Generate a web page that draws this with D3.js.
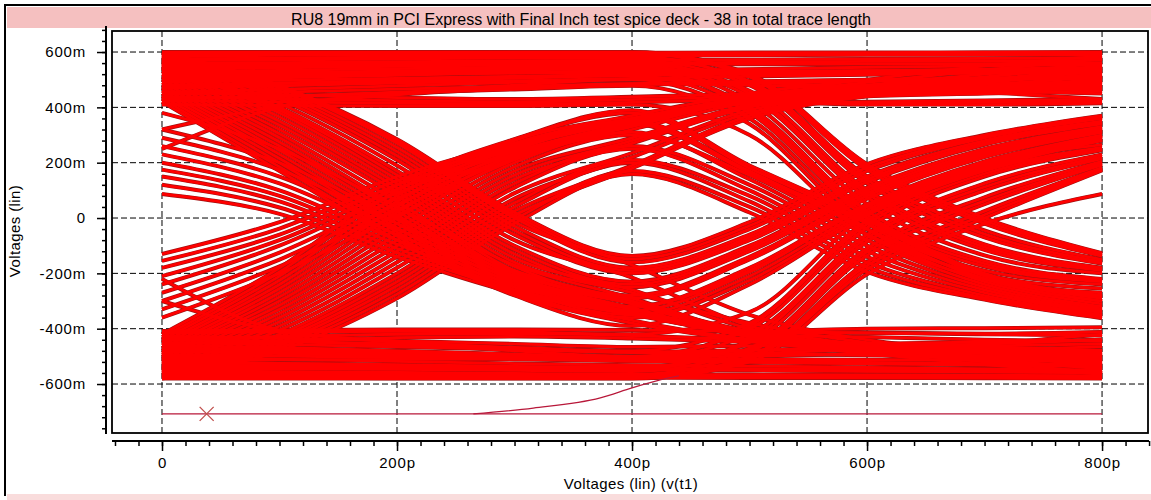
<!DOCTYPE html>
<html>
<head>
<meta charset="utf-8">
<script src="https://cdn.jsdelivr.net/npm/d3@7"></script>
<style>
  body { margin: 0; background: #fff; }
  svg { display: block; font-family: "Liberation Sans", Arial, sans-serif; }
</style>
</head>
<body>
<svg id="chart" width="1151" height="500"></svg>
<script>
// time of each sample in a trace, ps
const timesPs = [0, 100, 200, 300, 400, 500, 600, 700, 800];

// traces in mV, one value per sample time, grouped by bit pattern
const highHigh = [
  [585, 588, 590, 592, 592, 593, 594, 595, 595],
  [555, 558, 562, 566, 570, 572, 575, 577, 580],
  [500, 507, 516, 525, 532, 538, 545, 550, 555],
  [480, 488, 498, 508, 516, 520, 525, 530, 535],
  [430, 440, 455, 470, 482, 488, 495, 502, 510],
  [320, 405, 445, 470, 485, 480, 470, 460, 450],
  [250, 400, 450, 480, 500, 490, 475, 455, 430],
  [598, 597, 596, 596, 597, 598, 598, 599, 600],
  [575, 578, 582, 585, 587, 588, 590, 590, 591],
  [562, 560, 558, 557, 556, 556, 557, 558, 560],
  [548, 550, 553, 556, 560, 563, 566, 568, 570],
  [530, 528, 526, 525, 524, 523, 523, 524, 525],
  [512, 515, 520, 524, 528, 530, 533, 536, 540],
  [492, 498, 505, 512, 520, 526, 532, 538, 544],
  [470, 478, 488, 496, 505, 512, 518, 524, 528],
  [448, 455, 466, 476, 486, 494, 500, 506, 512],
  [455, 445, 435, 430, 438, 450, 462, 472, 482],
  [438, 430, 424, 420, 428, 440, 452, 465, 478],
  [425, 420, 415, 412, 418, 430, 445, 460, 470]
];
const highThenFall = [
  [600, 600, 600, 600, 600, 520, 195, 0, -127],
  [596, 596, 597, 598, 598, 515, 185, -10, -132],
  [590, 591, 592, 594, 595, 510, 175, -20, -138],
  [575, 577, 580, 583, 585, 488, 138, -58, -158],
  [570, 572, 575, 578, 580, 495, 150, -45, -150],
  [560, 562, 565, 568, 570, 480, 125, -70, -165],
  [548, 551, 555, 560, 565, 450, 88, -105, -185],
  [540, 543, 548, 553, 558, 460, 100, -95, -180],
  [530, 534, 540, 546, 552, 440, 75, -115, -190],
  [520, 525, 532, 540, 545, 420, 50, -135, -200],
  [512, 518, 526, 534, 540, 390, 12, -165, -225],
  [505, 510, 518, 526, 532, 400, 25, -155, -220],
  [478, 486, 495, 505, 515, 380, 0, -175, -230],
  [455, 465, 478, 490, 500, 360, -20, -190, -240],
  [432, 440, 452, 465, 478, 340, -40, -205, -255],
  [410, 407, 405, 405, 410, 300, -60, -220, -270]
];
const riseFirst = [
  [-580, -480, -290, -20, 159, 20, -195, -295, -362],
  [-575, -470, -275, -5, 170, 40, -178, -288, -356],
  [-570, -460, -260, 10, 180, 360, 440, 470, 490],
  [-565, -450, -245, 25, 190, 370, 442, 472, 495],
  [-560, -440, -230, 40, 200, 60, -160, -280, -350],
  [-555, -430, -215, 55, 210, 80, -140, -270, -342],
  [-550, -420, -200, 70, 220, 380, 445, 475, 500],
  [-545, -405, -180, 90, 235, 390, 448, 482, 510],
  [-540, -390, -160, 110, 250, 100, -120, -260, -335],
  [-532, -375, -140, 125, 260, 120, -100, -250, -328],
  [-525, -360, -120, 140, 270, 400, 450, 490, 520],
  [-518, -345, -100, 155, 280, 405, 458, 495, 530],
  [-510, -330, -80, 170, 290, 410, 465, 500, 540],
  [-502, -315, -60, 185, 300, 155, -60, -230, -310],
  [-495, -300, -40, 200, 310, 140, -80, -240, -320],
  [-488, -285, -20, 215, 320, 420, 472, 510, 550],
  [-480, -270, 0, 230, 330, 430, 480, 520, 560],
  [-470, -255, 20, 245, 340, 165, -20, -210, -290],
  [-460, -240, 40, 260, 350, 170, -40, -220, -300],
  [-450, -225, 60, 270, 360, 440, 490, 535, 575],
  [-440, -210, 80, 280, 370, 450, 500, 550, 585],
  [-430, -195, 100, 283, 380, 180, -10, -205, -285],
  [-420, -180, 120, 285, 390, 190, 0, -200, -280]
];
const riseEarly = [
  [-130, -15, 150, 270, 360, 420, 410, 410, 415],
  [-155, -38, 135, 262, 355, 418, 415, 418, 422],
  [-180, -60, 120, 255, 350, 415, 420, 425, 430],
  [-210, -80, 105, 248, 348, 165, -40, -220, -300],
  [-240, -100, 90, 240, 345, 420, 440, 450, 460],
  [-270, -125, 70, 232, 342, 425, 450, 460, 468],
  [-300, -150, 50, 225, 340, 430, 460, 470, 475],
  [-330, -175, 30, 218, 338, 435, 470, 485, 490],
  [-360, -200, 10, 210, 335, 440, 480, 500, 505]
];
const lowLow = [
  [-555, -558, -560, -563, -565, -566, -567, -568, -570],
  [-522, -527, -533, -540, -545, -548, -552, -556, -560],
  [-503, -510, -518, -526, -532, -535, -540, -545, -550],
  [-482, -490, -500, -510, -518, -522, -527, -532, -537],
  [-438, -446, -460, -474, -486, -490, -496, -502, -508],
  [-300, -410, -445, -470, -485, -478, -468, -456, -440],
  [-220, -405, -450, -480, -500, -490, -475, -455, -420],
  [-578, -577, -576, -576, -577, -578, -578, -579, -580],
  [-562, -565, -568, -570, -571, -572, -573, -574, -575],
  [-548, -546, -545, -544, -544, -545, -546, -548, -550],
  [-535, -538, -541, -545, -548, -551, -554, -556, -558],
  [-515, -513, -511, -510, -510, -511, -512, -514, -516],
  [-495, -499, -504, -509, -514, -518, -522, -526, -530],
  [-472, -478, -486, -494, -502, -500, -490, -478, -465],
  [-450, -457, -466, -475, -484, -478, -470, -462, -455],
  [-428, -434, -444, -455, -466, -462, -455, -448, -440],
  [-455, -445, -432, -428, -435, -448, -460, -470, -482],
  [-438, -428, -420, -418, -425, -440, -452, -465, -478],
  [-408, -405, -403, -403, -405, -410, -415, -418, -412]
];
const lowThenRise = [
  [-580, -580, -580, -580, -580, -520, -203, -20, 87],
  [-578, -578, -579, -579, -579, -505, -172, 12, 177],
  [-575, -576, -577, -578, -578, -510, -185, 0, 172],
  [-568, -570, -572, -574, -575, -500, -160, 25, 182],
  [-560, -563, -566, -569, -570, -478, -122, 62, 198],
  [-552, -555, -558, -562, -565, -485, -135, 50, 192],
  [-540, -543, -547, -551, -555, -470, -110, 75, 205],
  [-530, -534, -539, -544, -548, -440, -72, 112, 222],
  [-520, -525, -530, -536, -540, -450, -85, 100, 215],
  [-480, -486, -494, -502, -510, -420, -60, 125, 230],
  [-470, -476, -485, -495, -505, -390, -22, 160, 250],
  [-460, -468, -480, -492, -500, -400, -35, 150, 245],
  [-440, -445, -455, -468, -480, -380, -10, 170, 255],
  [-415, -412, -410, -412, -420, -340, 15, 190, 265]
];
const fallFirst = [
  [600, 480, 285, 20, -137, -15, 195, 300, 370],
  [595, 475, 278, 10, -148, -28, 182, 295, 365],
  [590, 470, 270, 0, -160, -40, 170, 290, 360],
  [585, 460, 255, -15, -170, -350, -440, -480, -500],
  [580, 450, 240, -30, -180, -60, 150, 280, 350],
  [575, 440, 225, -45, -190, -70, 140, 272, 345],
  [570, 430, 210, -60, -200, -80, 130, 265, 340],
  [565, 415, 190, -80, -215, -390, -460, -500, -530],
  [560, 400, 170, -100, -230, -100, 110, 250, 330],
  [555, 390, 155, -115, -240, -110, 100, 242, 325],
  [550, 380, 140, -130, -250, -120, 90, 235, 320],
  [545, 365, 125, -145, -260, -400, -470, -505, -525],
  [540, 350, 110, -160, -270, -380, -450, -490, -520],
  [530, 335, 95, -175, -280, -140, 80, 228, 315],
  [520, 320, 80, -190, -290, -150, 70, 220, 310],
  [510, 305, 60, -200, -300, -420, -475, -500, -505],
  [500, 290, 40, -210, -310, -410, -470, -510, -545],
  [490, 275, 25, -220, -320, -190, 40, 198, 295],
  [480, 260, 10, -230, -330, -420, -460, -480, -495],
  [470, 245, -5, -240, -340, -430, -485, -515, -540],
  [460, 230, -20, -250, -350, -210, 30, 190, 290],
  [450, 215, -35, -260, -360, -225, 20, 182, 285],
  [440, 200, -50, -270, -370, -440, -480, -520, -560],
  [430, 185, -65, -275, -380, -445, -490, -530, -565],
  [420, 170, -80, -280, -390, -240, 10, 175, 280]
];
const fallEarly = [
  [87, 15, -140, -270, -350, -410, -400, -398, -395],
  [120, 38, -125, -260, -345, -415, -415, -420, -425],
  [150, 60, -110, -250, -340, -420, -430, -440, -445],
  [175, 80, -95, -240, -335, -195, 45, 200, 298],
  [200, 100, -80, -230, -330, -425, -455, -470, -480],
  [230, 125, -60, -220, -325, -428, -462, -478, -488],
  [260, 150, -40, -210, -320, -180, 50, 205, 300],
  [290, 175, -20, -200, -310, -425, -468, -490, -500],
  [320, 200, 0, -190, -300, -430, -475, -500, -515],
  [380, 250, 40, -170, -290, -420, -465, -485, -490]
];

// the start-up trace below the eye and its cursor
const baseTimes = [0, 800];
const baseLevels = [-708, -708];
const rampTimes = [265, 316, 373, 400, 424, 440];
const rampLevels = [-708, -687, -650, -614, -585, -570];
const markerTimes = [38];
const markerLevels = [-708];

// axes
const xMajorTicks = [0, 200, 400, 600, 800];
const xTickLabels = ["0", "200p", "400p", "600p", "800p"];
const yMajorTicks = [-600, -400, -200, 0, 200, 400, 600];
const yTickLabels = ["-600m", "-400m", "-200m", "0", "200m", "400m", "600m"];

const title = "RU8 19mm in PCI Express with Final Inch test spice deck - 38 in total trace length";
const xTitle = "Voltages (lin) (v(t1)";
const yTitle = "Voltages (lin)";

const traces = [].concat(highHigh, highThenFall, riseFirst, riseEarly,
  lowLow, lowThenRise, fallFirst, fallEarly);

const svg = d3.select("#chart");
const x = d3.scaleLinear().domain([-42.55, 839.1]).range([112, 1148]);
const y = d3.scaleLinear().domain([-777, 676]).range([433, 31]);

// window decoration
svg.append("rect").attr("x", 7).attr("y", 7).attr("width", 1144).attr("height", 21).attr("fill", "#f5c0c0");
svg.append("rect").attr("x", 7).attr("y", 494).attr("width", 1144).attr("height", 6).attr("fill", "#f9dcdc");
svg.append("path").attr("d", "M5,496V5H1151")
  .attr("fill", "none").attr("stroke", "#000").attr("stroke-width", 2);

svg.append("text")
  .attr("x", 581).attr("y", 25)
  .attr("text-anchor", "middle")
  .style("font-size", "16px")
  .text(title);

// dashed grid
const grid = svg.append("g").attr("stroke", "#000").attr("stroke-width", 1).attr("stroke-dasharray", "6,3");
grid.selectAll(null).data(xMajorTicks).join("line")
  .attr("x1", d => x(d)).attr("x2", d => x(d))
  .attr("y1", 31).attr("y2", 433);
grid.selectAll(null).data(yMajorTicks).join("line")
  .attr("x1", 112).attr("x2", 1148)
  .attr("y1", d => y(d)).attr("y2", d => y(d));

// eye traces: a dark rim under all of them, then the red lines
const line = d3.line()
  .x((d, i) => x(timesPs[i]))
  .y(d => y(d))
  .curve(d3.curveMonotoneX);

svg.append("g")
  .attr("fill", "none")
  .attr("stroke", "#a01010")
  .attr("stroke-width", 4)
  .selectAll("path")
  .data(traces)
  .join("path")
  .attr("d", line);

svg.append("g")
  .attr("fill", "none")
  .attr("stroke", "#ff0000")
  .attr("stroke-width", 2.8)
  .selectAll("path")
  .data(traces)
  .join("path")
  .attr("d", line);

// start-up trace
const line2 = d3.line().x(d => x(d[0])).y(d => y(d[1])).curve(d3.curveMonotoneX);
svg.append("path")
  .attr("d", line2(baseTimes.map((t, i) => [t, baseLevels[i]])))
  .attr("fill", "none").attr("stroke", "#b8183a").attr("stroke-width", 1.2);
svg.append("path")
  .attr("d", line2(rampTimes.map((t, i) => [t, rampLevels[i]])))
  .attr("fill", "none").attr("stroke", "#b8183a").attr("stroke-width", 1.2);

svg.append("g")
  .selectAll("path")
  .data(markerTimes)
  .join("path")
  .attr("d", (d, i) => {
    const cx = x(d), cy = y(markerLevels[i]);
    return `M${cx - 7},${cy - 7}L${cx + 7},${cy + 7}M${cx - 7},${cy + 7}L${cx + 7},${cy - 7}`;
  })
  .attr("stroke", "#c0504d").attr("stroke-width", 1.3);

// plot frame
svg.append("rect").attr("x", 112).attr("y", 31).attr("width", 1036).attr("height", 402)
  .attr("fill", "none").attr("stroke", "#000").attr("stroke-width", 1.8);

// y axis
const yMinor = d3.range(-760, 681, 40);
svg.append("g").attr("transform", "translate(106,0)")
  .call(d3.axisLeft(y).tickValues(yMinor).tickSize(4).tickFormat(""))
  .call(g => g.select(".domain").remove())
  .selectAll("line").attr("stroke-width", 1.5);
const yAx = svg.append("g").attr("transform", "translate(106,0)")
  .call(d3.axisLeft(y).tickValues(yMajorTicks).tickSize(9).tickPadding(11)
    .tickFormat((d, i) => yTickLabels[i]))
  .call(g => g.select(".domain").remove());
yAx.selectAll("line").attr("stroke-width", 1.5);
yAx.selectAll("text").style("font-size", "15px").style("font-family", "Liberation Sans, Arial, sans-serif")
  .style("letter-spacing", "0.8px");
svg.append("line").attr("x1", 106).attr("x2", 106).attr("y1", 26).attr("y2", 434)
  .attr("stroke", "#000").attr("stroke-width", 2);

// x axis
const xMinor = d3.range(-40, 841, 20);
svg.append("g").attr("transform", "translate(0,441)")
  .call(d3.axisBottom(x).tickValues(xMinor).tickSize(5).tickFormat(""))
  .call(g => g.select(".domain").remove())
  .selectAll("line").attr("stroke-width", 1.5);
const xAx = svg.append("g").attr("transform", "translate(0,441)")
  .call(d3.axisBottom(x).tickValues(xMajorTicks).tickSize(10).tickPadding(6)
    .tickFormat((d, i) => xTickLabels[i]))
  .call(g => g.select(".domain").remove());
xAx.selectAll("line").attr("stroke-width", 1.5);
xAx.selectAll("text").style("font-size", "15px").style("font-family", "Liberation Sans, Arial, sans-serif")
  .style("letter-spacing", "0.8px");
svg.append("line").attr("x1", 112).attr("x2", 1149).attr("y1", 441).attr("y2", 441)
  .attr("stroke", "#000").attr("stroke-width", 2);

// axis titles
svg.append("text")
  .attr("x", 631).attr("y", 489)
  .attr("text-anchor", "middle")
  .style("font-size", "15px").style("letter-spacing", "0.4px")
  .text(xTitle);
svg.append("text")
  .attr("transform", "translate(20,231) rotate(-90)")
  .attr("text-anchor", "middle")
  .style("font-size", "15px").style("letter-spacing", "0.4px")
  .text(yTitle);
</script>
</body>
</html>
